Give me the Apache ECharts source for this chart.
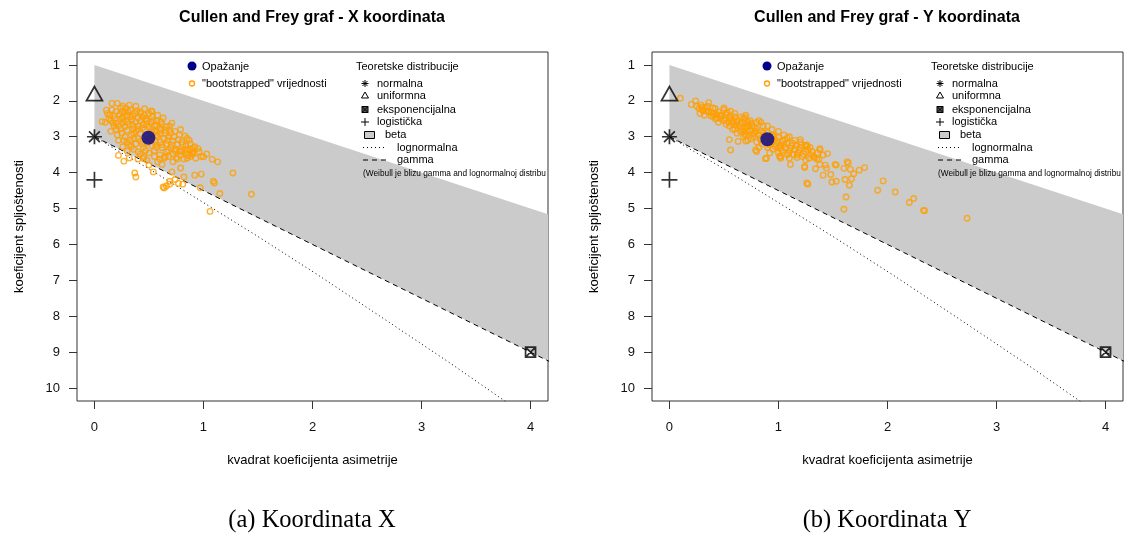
<!DOCTYPE html>
<html>
<head>
<meta charset="utf-8">
<title>Cullen and Frey graf</title>
<script src="https://cdn.jsdelivr.net/npm/echarts@6/dist/echarts.min.js"></script>
<style>
  html, body { margin: 0; padding: 0; background: #fff; }
  #chart { width: 1124px; height: 534px; }
</style>
</head>
<body>
<div id="chart"></div>
<script>
// tick labels
const xTicks = [0, 1, 2, 3, 4]
const yTicks = [1, 2, 3, 4, 5, 6, 7, 8, 9, 10]
const titles = ['Cullen and Frey graf - X koordinata', 'Cullen and Frey graf - Y koordinata']
const captions = ['(a) Koordinata X', '(b) Koordinata Y']

// observed point (skewness^2, kurtosis)
const obsX = [[0.495, 3.03]]
const obsY = [[0.898, 3.07]]

// theoretical distributions
const normalPt = [[0, 3]]
const uniformPt = [[0, 1.8]]
const expPt = [[4, 9]]
const logisPt = [[0, 4.2]]
const betaRegion = [[0, 1], [4.5, 5.5], [4.5, 9.75], [0, 3]]
const gammaLine = [[0, 3], [4.5, 9.75]]
const lognormalLine = [[0, 3], [0.09, 3.16], [0.18, 3.33], [0.47, 3.84], [0.96, 4.76], [1.49, 5.76],
  [2.05, 6.85], [2.64, 8.04], [3.27, 9.32], [3.93, 10.71]]

// bootstrapped values, X coordinate
const bootX = [
  [0.07, 2.58], [0.11, 2.26], [0.16, 2.07], [0.21, 2.07], [0.25, 2.3], [0.29, 2.21], [0.42, 2.35], [0.52, 2.28],
  [0.53, 2.3], [0.54, 2.54], [0.69, 2.82], [0.85, 3.05], [0.95, 3.33], [1.0, 3.56], [1.08, 3.63], [1.13, 3.7],
  [1.27, 4.01], [1.44, 4.6], [1.09, 4.24], [1.1, 4.29], [1.15, 4.58], [0.97, 4.42], [1.06, 5.08], [0.98, 4.04],
  [0.92, 4.07], [0.79, 3.87], [0.82, 4.12], [0.81, 4.32], [0.77, 4.3], [0.74, 4.19], [0.69, 4.24], [0.66, 4.37],
  [0.63, 4.4], [0.64, 4.43], [0.69, 4.32], [0.37, 4.01], [0.38, 4.12], [0.54, 3.98], [0.27, 3.68], [0.22, 3.52],
  [0.32, 3.59], [0.45, 3.61], [0.5, 3.79], [0.62, 3.77], [0.71, 3.98], [0.92, 3.28], [0.88, 3.37], [0.8, 3.42],
  [0.9, 3.45], [0.86, 3.52], [0.93, 3.6], [1.03, 3.48], [0.76, 3.62], [0.72, 3.7], [0.58, 3.7], [0.65, 3.55],
  [0.12, 2.35], [0.16, 2.25], [0.2, 2.3], [0.24, 2.2], [0.28, 2.32], [0.33, 2.25], [0.37, 2.35], [0.42, 2.3],
  [0.18, 2.42], [0.26, 2.45], [0.3, 2.4], [0.46, 2.4], [0.5, 2.35], [0.1, 2.6], [0.15, 2.55], [0.2, 2.62],
  [0.25, 2.5], [0.3, 2.58], [0.34, 2.52], [0.38, 2.6], [0.42, 2.55], [0.47, 2.5], [0.52, 2.6], [0.57, 2.55],
  [0.62, 2.65], [0.22, 2.7], [0.28, 2.72], [0.35, 2.68], [0.4, 2.7], [0.45, 2.66], [0.5, 2.72], [0.55, 2.7],
  [0.6, 2.75], [0.66, 2.72], [0.15, 2.85], [0.2, 2.8], [0.25, 2.9], [0.3, 2.82], [0.34, 2.95], [0.38, 2.85],
  [0.42, 2.92], [0.46, 2.8], [0.55, 2.85], [0.6, 2.92], [0.65, 2.82], [0.7, 2.9], [0.74, 2.85], [0.78, 2.95],
  [0.28, 3.0], [0.36, 3.05], [0.58, 3.0], [0.64, 3.05], [0.68, 3.0], [0.22, 3.1], [0.3, 3.15], [0.38, 3.2],
  [0.42, 3.12], [0.48, 3.18], [0.52, 3.1], [0.56, 3.22], [0.6, 3.15], [0.66, 3.2], [0.72, 3.12], [0.76, 3.22],
  [0.8, 3.15], [0.84, 3.25], [0.88, 3.2], [0.34, 3.28], [0.45, 3.3], [0.62, 3.3], [0.7, 3.3], [0.9, 3.32],
  [0.3, 3.4], [0.4, 3.42], [0.5, 3.45], [0.55, 3.38], [0.6, 3.5], [0.66, 3.42], [0.72, 3.48], [0.78, 3.4],
  [0.84, 3.45], [0.9, 3.48], [0.96, 3.42], [0.45, 3.55], [0.64, 3.6], [0.75, 3.58], [0.82, 3.62], [0.88, 3.55],
  [0.33, 2.45], [0.4, 2.48], [0.36, 2.78], [0.48, 2.98], [0.52, 2.88], [0.4, 3.05], [0.26, 2.62], [0.18, 2.7],
  [0.14, 2.4], [0.19, 2.5], [0.23, 2.38], [0.27, 2.55], [0.31, 2.3], [0.35, 2.42], [0.39, 2.28], [0.44, 2.45],
  [0.48, 2.56], [0.53, 2.45], [0.57, 2.68], [0.61, 2.58], [0.65, 2.9], [0.69, 2.7], [0.73, 3.0], [0.77, 3.08],
  [0.81, 3.22], [0.85, 3.35], [0.87, 3.1], [0.83, 2.98], [0.79, 2.8], [0.71, 2.62], [0.63, 2.48], [0.58, 2.4],
  [0.46, 2.22], [0.38, 2.15], [0.32, 2.12], [0.26, 2.15], [0.13, 2.5], [0.17, 2.62], [0.21, 2.95], [0.24, 2.78],
  [0.32, 2.65], [0.36, 2.9], [0.4, 2.8], [0.44, 2.75], [0.48, 2.65], [0.53, 2.8], [0.57, 2.95], [0.61, 2.82],
  [0.67, 3.1], [0.71, 3.22], [0.75, 3.35], [0.79, 3.5], [0.83, 3.38], [0.57, 3.3], [0.53, 3.25], [0.47, 3.38],
  [0.42, 3.48], [0.36, 3.35], [0.32, 3.22], [0.26, 3.28], [0.27, 3.1], [0.33, 3.1], [0.44, 3.2], [0.5, 3.05],
  [0.56, 3.12], [0.62, 3.22], [0.68, 3.38], [0.74, 3.4], [0.85, 3.6], [0.91, 3.4], [0.98, 3.55], [0.68, 3.55],
  [0.55, 3.55], [0.48, 3.65], [0.4, 3.62], [0.6, 3.62]
]

// bootstrapped values, Y coordinate
const bootY = [
  [0.1, 1.93], [0.24, 2.0], [0.36, 2.05], [0.27, 2.21], [0.31, 2.28], [0.42, 2.22], [0.5, 2.2], [0.56, 2.29],
  [0.4, 2.43], [0.59, 2.57], [0.69, 2.46], [0.82, 2.55], [0.55, 3.08], [0.56, 3.37], [0.79, 3.37], [0.8, 3.41],
  [0.88, 3.61], [0.89, 3.6], [1.01, 3.54], [1.02, 3.6], [1.11, 3.77], [1.17, 3.5], [1.2, 3.08], [1.26, 3.23],
  [1.26, 3.27], [1.32, 3.55], [1.38, 3.33], [1.38, 3.37], [1.24, 3.83], [1.24, 3.86], [1.44, 3.88], [1.45, 3.47],
  [1.41, 3.51], [1.37, 3.63], [1.25, 3.65], [1.34, 3.89], [1.43, 3.79], [1.38, 3.77], [1.52, 3.77], [1.53, 3.79],
  [1.64, 3.73], [1.63, 3.7], [1.66, 3.91], [1.6, 3.88], [1.69, 4.03], [1.74, 3.93], [1.79, 3.86], [1.67, 4.17],
  [1.61, 4.19], [1.65, 4.35], [1.53, 4.24], [1.49, 4.26], [1.41, 4.07], [1.48, 4.05], [1.26, 4.29], [1.27, 4.32],
  [1.62, 4.68], [1.6, 5.02], [1.91, 4.49], [1.96, 4.23], [2.07, 4.54], [2.2, 4.83], [2.24, 4.72], [2.33, 5.05],
  [2.34, 5.06], [2.73, 5.27], [0.95, 2.95], [1.08, 3.04], [1.02, 3.32], [0.71, 2.71], [0.68, 2.85], [0.63, 3.13],
  [0.7, 3.12], [0.25, 2.15], [0.3, 2.25], [0.32, 2.4], [0.36, 2.3], [0.4, 2.35], [0.42, 2.5], [0.45, 2.3],
  [0.48, 2.42], [0.5, 2.55], [0.52, 2.38], [0.55, 2.48], [0.58, 2.62], [0.6, 2.45], [0.62, 2.55], [0.64, 2.7],
  [0.66, 2.6], [0.68, 2.5], [0.7, 2.75], [0.72, 2.65], [0.74, 2.82], [0.76, 2.7], [0.78, 2.9], [0.8, 2.78],
  [0.82, 2.95], [0.84, 2.85], [0.86, 2.7], [0.88, 3.0], [0.9, 2.88], [0.92, 3.15], [0.94, 2.95], [0.96, 3.1],
  [0.98, 3.2], [1.0, 3.02], [1.02, 3.25], [1.04, 3.12], [1.06, 3.3], [1.08, 3.18], [1.1, 3.4], [1.12, 3.25],
  [1.15, 3.35], [1.18, 3.45], [1.2, 3.3], [1.22, 3.55], [1.25, 3.42], [1.28, 3.6], [1.3, 3.5], [1.35, 3.62],
  [0.45, 2.6], [0.55, 2.7], [0.65, 2.85], [0.7, 2.95], [0.75, 3.05], [0.8, 3.15], [0.85, 3.2], [0.9, 3.3],
  [0.95, 3.35], [1.0, 3.45], [0.6, 2.35], [0.7, 2.4], [0.8, 2.6], [0.9, 2.7], [1.0, 2.85], [1.1, 3.0],
  [1.2, 3.15], [0.35, 2.15], [0.5, 2.25], [0.58, 2.8], [0.68, 3.0], [0.74, 2.55], [0.84, 2.6], [0.94, 2.8],
  [1.05, 2.95], [1.15, 3.1], [1.25, 3.25], [0.4, 2.2], [0.2, 2.1], [0.28, 2.35], [0.62, 2.9], [0.72, 3.1],
  [0.82, 3.3], [0.92, 3.45], [1.02, 3.55], [1.1, 3.6],
  [0.3, 2.18], [0.34, 2.28], [0.38, 2.42], [0.43, 2.38], [0.47, 2.5], [0.51, 2.48], [0.54, 2.6], [0.57, 2.52],
  [0.61, 2.68], [0.65, 2.65], [0.67, 2.78], [0.71, 2.85], [0.73, 2.72], [0.77, 2.98], [0.79, 2.85], [0.83, 3.05],
  [0.87, 2.95], [0.91, 3.22], [0.93, 3.08], [0.97, 3.28], [0.99, 3.12], [1.03, 3.38], [1.05, 3.22], [1.09, 3.45],
  [1.11, 3.32], [1.14, 3.5], [1.16, 3.25], [1.19, 3.38], [1.23, 3.48], [1.27, 3.35], [1.31, 3.42], [1.33, 3.58],
  [0.46, 2.4], [0.53, 2.32], [0.62, 2.6], [0.66, 2.45], [0.75, 2.62], [0.78, 2.75], [0.86, 2.88], [0.96, 3.0],
  [1.06, 3.08], [1.13, 3.18], [0.52, 2.65], [0.6, 2.78], [0.69, 2.92], [0.76, 2.92], [0.84, 3.1], [0.92, 3.2],
  [1.0, 3.3], [1.08, 3.5], [1.17, 3.58], [0.44, 2.48], [0.38, 2.32], [0.33, 2.2], [0.29, 2.12], [0.56, 2.42],
  [0.72, 2.58], [1.21, 3.22], [1.29, 3.3], [1.36, 3.45]
]

const FONT = '"Liberation Sans", Arial, sans-serif'
const SERIF = '"Liberation Serif", "Times New Roman", serif'
const BOOT_COLOR = '#FF9F00'
const OBS_COLOR = '#00008B'
const BETA_COLOR = '#cbcbcb'

const SYM_ASTER = 'path://M0,-1L0,1M-1,0L1,0M-0.72,-0.72L0.72,0.72M0.72,-0.72L-0.72,0.72'
const SYM_PLUS = 'path://M0,-1L0,1M-1,0L1,0'
const SYM_TRI = 'path://M0,-1L0.866,0.5L-0.866,0.5Z'
const SYM_BOXX = 'path://M0,0L1,0L1,1L0,1ZM0,0L1,1M1,0L0,1'

const panelLeft = [77, 652]
const chart = echarts.init(document.getElementById('chart'))

function markerSeries(idx, data, symbol, size) {
  return {
    type: 'scatter', xAxisIndex: idx, yAxisIndex: idx, silent: true, z: 5,
    symbol: symbol, symbolSize: size, data: data,
    itemStyle: { color: 'rgba(0,0,0,0)', borderColor: '#000', borderWidth: 1.7 }
  }
}

function panelSeries(idx, obs, boot) {
  return [
    {
      type: 'custom', xAxisIndex: idx, yAxisIndex: idx, clip: true, silent: true, z: 1,
      data: [0],
      renderItem: function (params, api) {
        return {
          type: 'polygon',
          shape: { points: betaRegion.map(function (p) { return api.coord(p) }) },
          style: { fill: BETA_COLOR }
        }
      }
    },
    {
      type: 'line', xAxisIndex: idx, yAxisIndex: idx, data: lognormalLine, showSymbol: false, silent: true, z: 2,
      lineStyle: { color: '#000', width: 1, type: [1, 3] }
    },
    {
      type: 'line', xAxisIndex: idx, yAxisIndex: idx, data: gammaLine, showSymbol: false, silent: true, z: 2,
      lineStyle: { color: '#000', width: 1, type: [5, 4] }
    },
    {
      type: 'scatter', xAxisIndex: idx, yAxisIndex: idx, data: boot, silent: true, z: 3,
      symbol: 'circle', symbolSize: 5.5,
      itemStyle: { color: 'rgba(0,0,0,0)', borderColor: BOOT_COLOR, borderWidth: 1.4 }
    },
    markerSeries(idx, normalPt, SYM_ASTER, 15),
    markerSeries(idx, uniformPt, SYM_TRI, [16, 14]),
    markerSeries(idx, logisPt, SYM_PLUS, 16),
    markerSeries(idx, expPt, SYM_BOXX, 10),
    {
      type: 'scatter', xAxisIndex: idx, yAxisIndex: idx, data: obs, silent: true, z: 6,
      symbol: 'circle', symbolSize: 14, itemStyle: { color: OBS_COLOR }
    }
  ]
}

function txt(x, y, text, size, extra) {
  return {
    type: 'text', x: x, y: y, silent: true, z: 100,
    style: Object.assign({ text: text, fontSize: size, fontFamily: FONT, fill: '#000', verticalAlign: 'middle', align: 'left' }, extra || {})
  }
}

function seg(x1, y1, x2, y2, dash) {
  return {
    type: 'line', silent: true, z: 100,
    shape: { x1: x1, y1: y1, x2: x2, y2: y2 },
    style: { stroke: '#000', lineWidth: 1, lineDash: dash || null }
  }
}

// R style legend drawn with graphic elements
function legendGraphics(dx, idx) {
  const g = []
  const cx = 192 + dx
  g.push({ type: 'circle', silent: true, z: 100, shape: { cx: cx, cy: 66, r: 4.5 }, style: { fill: OBS_COLOR } })
  g.push(txt(cx + 10, 66.5, 'Opažanje', 11))
  g.push({ type: 'circle', silent: true, z: 100, shape: { cx: cx, cy: 83.5, r: 2.5 }, style: { fill: null, stroke: BOOT_COLOR, lineWidth: 1.3 } })
  g.push(txt(cx + 10, 83.5, '"bootstrapped" vrijednosti', 11))

  const lx = 356 + dx
  const sx = 365 + dx
  g.push(txt(lx, 66.5, 'Teoretske distribucije', 11))
  // normalna
  g.push(seg(sx, 80, sx, 87), seg(sx - 3.5, 83.5, sx + 3.5, 83.5), seg(sx - 2.5, 81, sx + 2.5, 86), seg(sx + 2.5, 81, sx - 2.5, 86))
  g.push(txt(sx + 12, 84, 'normalna', 11))
  // uniformna
  g.push({ type: 'polygon', silent: true, z: 100, shape: { points: [[sx, 92], [sx + 3.5, 98], [sx - 3.5, 98]] }, style: { fill: null, stroke: '#000', lineWidth: 1 } })
  g.push(txt(sx + 12, 96, 'uniformna', 11))
  // eksponencijalna
  g.push({ type: 'rect', silent: true, z: 100, shape: { x: sx - 3, y: 106.5, width: 6, height: 6 }, style: { fill: '#555', stroke: '#000', lineWidth: 1 } })
  g.push(seg(sx - 3, 106.5, sx + 3, 112.5), seg(sx + 3, 106.5, sx - 3, 112.5))
  g.push(txt(sx + 12, 109.5, 'eksponencijalna', 11))
  // logisticka
  g.push(seg(sx, 118, sx, 126), seg(sx - 4, 122, sx + 4, 122))
  g.push(txt(sx + 12, 122, 'logistička', 11))
  // beta
  g.push({ type: 'rect', silent: true, z: 100, shape: { x: sx - 0.5, y: 131.5, width: 10, height: 7 }, style: { fill: BETA_COLOR, stroke: '#000', lineWidth: 1 } })
  g.push(txt(sx + 20, 135, 'beta', 11))
  // lognormalna, gamma
  g.push(seg(sx - 2, 147.5, sx + 22, 147.5, [1, 3]))
  g.push(txt(sx + 32, 147.5, 'lognormalna', 11))
  g.push(seg(sx - 2, 160, sx + 22, 160, [5, 4]))
  g.push(txt(sx + 32, 160, 'gamma', 11))
  g.push(txt(sx - 2, 174, '(Weibull je blizu gamma and lognormalnoj distribu', 8.3))

  // title and caption
  g.push(txt(312 + dx, 18, titles[idx], 16, { align: 'center', fontWeight: 'bold' }))
  g.push(txt(312 + dx, 521, captions[idx], 24.5, { align: 'center', fontFamily: SERIF }))
  return g
}

function xAxisCfg(idx) {
  return {
    gridIndex: idx, type: 'value', min: -0.16, max: 4.16,
    name: 'kvadrat koeficijenta asimetrije', nameLocation: 'middle', nameGap: 53,
    nameTextStyle: { fontSize: 13, color: '#000', fontFamily: FONT },
    axisLine: { show: false, onZero: false },
    splitLine: { show: false },
    axisTick: { show: true, length: 8, customValues: xTicks, lineStyle: { color: '#333' } },
    axisLabel: { customValues: xTicks, margin: 20, fontSize: 13, color: '#111', fontFamily: FONT }
  }
}

function yAxisCfg(idx) {
  return {
    gridIndex: idx, type: 'value', inverse: true, min: 0.64, max: 10.36,
    name: 'koeficijent spljoštenosti', nameLocation: 'middle', nameGap: 51, nameRotate: 90,
    nameTextStyle: { fontSize: 13, color: '#000', fontFamily: FONT },
    axisLine: { show: false, onZero: false },
    splitLine: { show: false },
    axisTick: { show: true, length: 8, customValues: yTicks, lineStyle: { color: '#333' } },
    axisLabel: { customValues: yTicks, margin: 17, fontSize: 13, color: '#111', fontFamily: FONT }
  }
}

chart.setOption({
  animation: false,
  backgroundColor: '#fff',
  grid: panelLeft.map(function (l) {
    return { left: l, top: 52, width: 471, height: 349, show: true, borderColor: '#333', borderWidth: 1, backgroundColor: 'rgba(0,0,0,0)' }
  }),
  xAxis: [xAxisCfg(0), xAxisCfg(1)],
  yAxis: [yAxisCfg(0), yAxisCfg(1)],
  series: panelSeries(0, obsX, bootX).concat(panelSeries(1, obsY, bootY)),
  graphic: legendGraphics(0, 0).concat(legendGraphics(575, 1))
})
</script>
</body>
</html>
